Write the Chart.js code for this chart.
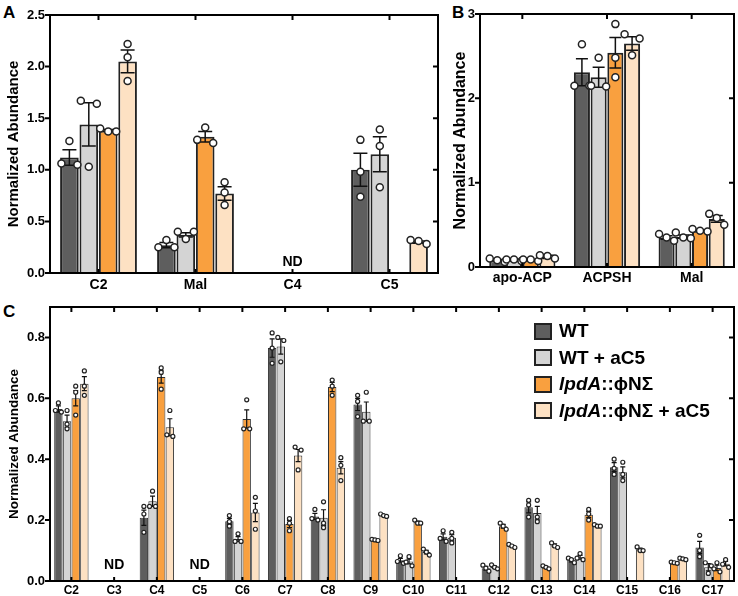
<!DOCTYPE html>
<html>
<head>
<meta charset="utf-8">
<script src="https://cdn.jsdelivr.net/npm/chart.js@4.4.0/dist/chart.umd.min.js"></script>
<style>
  body { margin: 0; background: #fff; width: 738px; height: 596px; position: relative; overflow: hidden;
         font-family: "Liberation Sans", Arial, sans-serif; }
  canvas { position: absolute; }
  .tag { position: absolute; font-weight: bold; font-size: 17px; line-height: 1; }
  #legend { position: absolute; left: 534px; top: 318px; font-weight: bold; font-size: 19px; }
  #legend .row { height: 26.5px; display: flex; align-items: center; white-space: nowrap; }
  #legend .box { width: 14px; height: 13px; border: 2px solid #222; margin-right: 7px; }
</style>
</head>
<body>
<div class="tag" style="left:3px;top:4px">A</div>
<div class="tag" style="left:452px;top:4px">B</div>
<div class="tag" style="left:3px;top:303px">C</div>
<canvas id="chartA" width="440" height="292" style="left:0;top:0"></canvas>
<canvas id="chartB" width="298" height="292" style="left:440px;top:0"></canvas>
<canvas id="chartC" width="738" height="306" style="left:0;top:290px"></canvas>
<div id="legend"></div>

<script>
// series
const seriesNames = ["WT", "WT + aC5", "lpdA::ϕNΣ", "lpdA::ϕNΣ + aC5"];
const seriesColors = ["#5e5e5e", "#d4d4d4", "#f9a03f", "#fde1c3"];

// ---- panel A ----
const aCategories = ["C2", "Mal", "C4", "C5"];
const aND = ["C4"];
const aWT = [1.12, 0.27, null, 1.00];
const aWTErr = [0.075, 0.025, null, 0.16];
const aWTPts = [[1.28, 1.05, 1.06], [0.32, 0.25, 0.25], null, [1.29, 0.98, 0.74]];
const aWTa = [1.44, 0.37, null, 1.15];
const aWTaErr = [0.21, 0.02, null, 0.17];
const aWTaPts = [[1.67, 1.64, 1.03], [0.40, 0.33, 0.40], null, [1.39, 1.23, 0.83]];
const aL = [1.38, 1.32, null, null];
const aLErr = [0.01, 0.05, null, null];
const aLPts = [[1.37, 1.40, 1.37], [1.41, 1.29, 1.26], null, null];
const aLa = [2.05, 0.77, null, 0.30];
const aLaErr = [0.11, 0.065, null, 0.01];
const aLaPts = [[2.22, 2.09, 1.86], [0.88, 0.78, 0.66], null, [0.28, 0.32, 0.31]];
const aTicks = [0, 0.5, 1.0, 1.5, 2.0, 2.5];

// ---- panel B ----
const bCategories = ["apo-ACP", "ACPSH", "Mal"];
const bWT = [0.08, 2.31, 0.35];
const bWTErr = [0.01, 0.16, 0.02];
const bWTPts = [[0.06, 0.10, 0.08], [2.64, 2.15, 2.15], [0.39, 0.31, 0.35]];
const bWTa = [0.08, 2.25, 0.36];
const bWTaErr = [0.01, 0.12, 0.02];
const bWTaPts = [[0.07, 0.09, 0.09], [2.48, 2.15, 2.14], [0.41, 0.34, 0.35]];
const bL = [0.08, 2.54, 0.43];
const bLErr = [0.01, 0.18, 0.01];
const bLPts = [[0.09, 0.09, 0.07], [2.88, 2.48, 2.25], [0.45, 0.43, 0.42]];
const bLa = [0.12, 2.65, 0.57];
const bLaErr = [0.02, 0.08, 0.04];
const bLaPts = [[0.14, 0.13, 0.10], [2.76, 2.71, 2.51], [0.63, 0.58, 0.50]];
const bTicks = [0, 1, 2, 3];

// ---- panel C ----
const cCategories = ["C2", "C3", "C4", "C5", "C6", "C7", "C8", "C9", "C10", "C11", "C12", "C13", "C14", "C15", "C16", "C17"];
const cND = ["C3", "C5"];
const cWT = [0.565, null, 0.208, null, 0.196, 0.765, 0.212, 0.58, 0.068, 0.145, 0.042, 0.242, 0.068, 0.374, null, 0.11];
const cWTErr = [0.01, null, 0.025, null, 0.01, 0.03, 0.01, 0.02, 0.006, 0.01, 0.006, 0.018, 0.005, 0.015, null, 0.02];
const cWTPts = [[0.585, 0.56, 0.555], null, [0.245, 0.22, 0.16], null, [0.215, 0.195, 0.18], [0.815, 0.765, 0.715],
  [0.235, 0.205, 0.2], [0.61, 0.59, 0.54], [0.083, 0.064, 0.058], [0.165, 0.14, 0.13], [0.052, 0.042, 0.032],
  [0.265, 0.25, 0.21], [0.075, 0.07, 0.06], [0.4, 0.37, 0.35], null, [0.15, 0.1, 0.08]];
const cWTa = [0.525, null, 0.262, null, 0.138, 0.77, 0.208, 0.556, 0.064, 0.142, 0.046, 0.223, 0.078, 0.357, null, 0.045];
const cWTaErr = [0.02, null, 0.017, null, 0.008, 0.025, 0.026, 0.032, 0.008, 0.01, 0.004, 0.022, 0.006, 0.018, null, 0.012];
const cWTaPts = [[0.56, 0.515, 0.50], null, [0.295, 0.245, 0.245], null, [0.155, 0.13, 0.13], [0.80, 0.79, 0.72],
  [0.26, 0.19, 0.175], [0.62, 0.525, 0.525], [0.08, 0.062, 0.05], [0.16, 0.14, 0.125], [0.053, 0.045, 0.04],
  [0.265, 0.21, 0.195], [0.09, 0.075, 0.07], [0.39, 0.35, 0.33], null, [0.06, 0.05, 0.025]];
const cL = [0.60, null, 0.67, null, 0.532, 0.187, 0.637, 0.135, 0.193, null, 0.18, 0.045, 0.218, null, 0.06, 0.043];
const cLErr = [0.025, null, 0.02, null, 0.03, 0.012, 0.015, 0.002, 0.004, null, 0.006, 0.003, 0.01, null, 0.002, 0.009];
const cLPts = [[0.64, 0.62, 0.545], null, [0.70, 0.685, 0.63], null, [0.595, 0.50, 0.50], [0.205, 0.19, 0.165],
  [0.66, 0.64, 0.61], [0.137, 0.135, 0.133], [0.20, 0.19, 0.19], null, [0.19, 0.18, 0.17],
  [0.05, 0.045, 0.04], [0.235, 0.22, 0.20], null, [0.062, 0.06, 0.058], [0.06, 0.04, 0.03]];
const cLa = [0.648, null, 0.505, null, 0.225, 0.412, 0.372, 0.216, 0.095, null, 0.115, 0.117, 0.182, 0.104, 0.073, 0.057];
const cLaErr = [0.023, null, 0.028, null, 0.03, 0.02, 0.02, 0.002, 0.006, null, 0.003, 0.005, 0.002, 0.004, 0.002, 0.007];
const cLaPts = [[0.69, 0.64, 0.61], null, [0.56, 0.48, 0.475], null, [0.275, 0.23, 0.17], [0.44, 0.43, 0.365],
  [0.405, 0.38, 0.33], [0.22, 0.215, 0.212], [0.105, 0.095, 0.085], null, [0.12, 0.115, 0.11],
  [0.125, 0.115, 0.11], [0.185, 0.18, 0.18], [0.112, 0.10, 0.10], [0.075, 0.073, 0.07], [0.07, 0.055, 0.045]];
const cTicks = [0, 0.2, 0.4, 0.6, 0.8];

Chart.defaults.font.family = '"Liberation Sans", Arial, sans-serif';
Chart.defaults.color = "#000";

// error bars, replicate dots, boxed frame with ticks, ND labels
const decor = {
  id: "decor",
  afterDatasetsDraw(chart, args, o) {
    const ctx = chart.ctx, xs = chart.scales.x, ys = chart.scales.y;
    ctx.save();
    chart.data.datasets.forEach((ds, i) => {
      chart.getDatasetMeta(i).data.forEach((bar, j) => {
        const m = ds.data[j];
        if (m == null) return;
        const yt = ys.getPixelForValue(m + ds.err[j]);
        const yb = ys.getPixelForValue(m - ds.err[j]);
        ctx.strokeStyle = "#111";
        ctx.lineWidth = o.errWidth;
        ctx.beginPath();
        ctx.moveTo(bar.x, yt); ctx.lineTo(bar.x, yb);
        ctx.moveTo(bar.x - o.cap, yt); ctx.lineTo(bar.x + o.cap, yt);
        ctx.moveTo(bar.x - o.cap, yb); ctx.lineTo(bar.x + o.cap, yb);
        ctx.stroke();

        // spread overlapping dots sideways, like a scatter-dot plot
        const py = (ds.pts[j] || []).map(v => ys.getPixelForValue(v)).sort((p, q) => p - q);
        const groups = [];
        py.forEach(p => {
          const g = groups[groups.length - 1];
          if (g && p - g[g.length - 1] < o.r * 2) g.push(p); else groups.push([p]);
        });
        const offs = { 1: [0], 2: [-1, 1], 3: [-1, 0, 1] };
        ctx.fillStyle = "#fff";
        ctx.strokeStyle = "#222";
        ctx.lineWidth = o.dotWidth;
        groups.forEach(g => g.forEach((p, k) => {
          ctx.beginPath();
          ctx.arc(bar.x + offs[g.length][k] * o.spread, p, o.r, 0, Math.PI * 2);
          ctx.fill();
          ctx.stroke();
        }));
      });
    });

    const a = chart.chartArea;
    ctx.strokeStyle = "#000";
    ctx.lineWidth = 2;
    ctx.strokeRect(a.left, a.top, a.right - a.left, a.bottom - a.top);
    ctx.beginPath();
    ys.ticks.forEach(t => {
      const p = ys.getPixelForValue(t.value);
      ctx.moveTo(a.left - 5, p); ctx.lineTo(a.left, p);
      ctx.moveTo(a.right - 5, p); ctx.lineTo(a.right, p);
    });
    chart.data.labels.forEach((l, i) => {
      const p = xs.getPixelForValue(i);
      ctx.moveTo(p, a.top); ctx.lineTo(p, a.top + 5);
      ctx.moveTo(p, a.bottom - 4); ctx.lineTo(p, a.bottom);
    });
    ctx.stroke();

    ctx.fillStyle = "#000";
    ctx.font = "bold " + o.ndSize + 'px "Liberation Sans", Arial, sans-serif';
    ctx.textAlign = "center";
    ctx.textBaseline = "middle";
    (o.nd || []).forEach(c => {
      ctx.fillText("ND", xs.getPixelForValue(chart.data.labels.indexOf(c)), a.bottom - o.ndLift);
    });
    ctx.restore();
  }
};

function makeChart(id, cats, groups, yTicks, o) {
  return new Chart(document.getElementById(id), {
    type: "bar",
    data: {
      labels: cats,
      datasets: groups.map((g, i) => ({
        label: seriesNames[i],
        data: g[0], err: g[1], pts: g[2],
        backgroundColor: seriesColors[i],
        borderColor: o.edge,
        borderWidth: o.edgeWidth,
        categoryPercentage: o.cat,
        barPercentage: o.bar
      }))
    },
    options: {
      responsive: false,
      animation: false,
      layout: { padding: o.pad },
      plugins: { legend: { display: false }, tooltip: { enabled: false }, decor: o.decor },
      scales: {
        x: {
          grid: { display: false, drawTicks: false }, border: { display: false },
          ticks: { font: { size: o.xFont, weight: "bold" }, padding: o.xPad, maxRotation: 0, autoSkip: false },
          afterFit: s => { s.height = o.xHeight; }
        },
        y: {
          min: 0, max: o.max,
          grid: { display: false, drawTicks: false }, border: { display: false },
          afterBuildTicks: s => { s.ticks = yTicks.map(v => ({ value: v })); },
          ticks: { font: { size: o.yFont, weight: "bold" }, padding: 5, callback: v => v.toFixed(o.dec) },
          title: { display: true, text: "Normalized Abundance", font: { size: o.titleSize, weight: "bold" },
                   padding: { top: o.titlePad, bottom: 0 } },
          afterFit: s => { s.width = o.yWidth; }
        }
      }
    },
    plugins: [decor]
  });
}

makeChart("chartA", aCategories,
  [[aWT, aWTErr, aWTPts], [aWTa, aWTaErr, aWTaPts], [aL, aLErr, aLPts], [aLa, aLaErr, aLaPts]], aTicks, {
    max: 2.5, dec: 1, pad: { top: 15, right: 2, left: 0, bottom: 0 }, yWidth: 50, xHeight: 19,
    xFont: 14, xPad: 4, yFont: 13, titleSize: 15, titlePad: 5,
    edge: "#222", edgeWidth: 2, cat: 0.8, bar: 0.96,
    decor: { errWidth: 1.5, cap: 7, r: 3.5, spread: 8, dotWidth: 1.5, nd: aND, ndSize: 14, ndLift: 11 }
  });

makeChart("chartB", bCategories,
  [[bWT, bWTErr, bWTPts], [bWTa, bWTaErr, bWTaPts], [bL, bLErr, bLPts], [bLa, bLaErr, bLaPts]], bTicks, {
    max: 3, dec: 0, pad: { top: 14, right: 4, left: 0, bottom: 0 }, yWidth: 40, xHeight: 25,
    xFont: 14, xPad: 3, yFont: 13, titleSize: 16, titlePad: 11,
    edge: "#222", edgeWidth: 2, cat: 0.79, bar: 0.96,
    decor: { errWidth: 1.5, cap: 6, r: 3.5, spread: 7.5, dotWidth: 1.5, nd: [], ndSize: 14, ndLift: 11 }
  });

makeChart("chartC", cCategories,
  [[cWT, cWTErr, cWTPts], [cWTa, cWTaErr, cWTaPts], [cL, cLErr, cLPts], [cLa, cLaErr, cLaPts]], cTicks, {
    max: 0.9, dec: 1, pad: { top: 17, right: 4, left: 0, bottom: 0 }, yWidth: 50, xHeight: 15,
    xFont: 12, xPad: 2, yFont: 13, titleSize: 13.5, titlePad: 6,
    edge: "#333", edgeWidth: 1, cat: 0.81, bar: 0.97,
    decor: { errWidth: 1.2, cap: 2.5, r: 2, spread: 3, dotWidth: 1.2, nd: cND, ndSize: 14, ndLift: 16 }
  });

// legend (HTML so the gene name can be italic)
const legendLabels = ["WT", "WT + aC5", "<i>lpdA</i>::ϕNΣ", "<i>lpdA</i>::ϕNΣ + aC5"];
document.getElementById("legend").innerHTML = legendLabels.map((t, i) =>
  `<div class="row"><span class="box" style="background:${seriesColors[i]}"></span><span>${t}</span></div>`
).join("");
</script>
</body>
</html>
